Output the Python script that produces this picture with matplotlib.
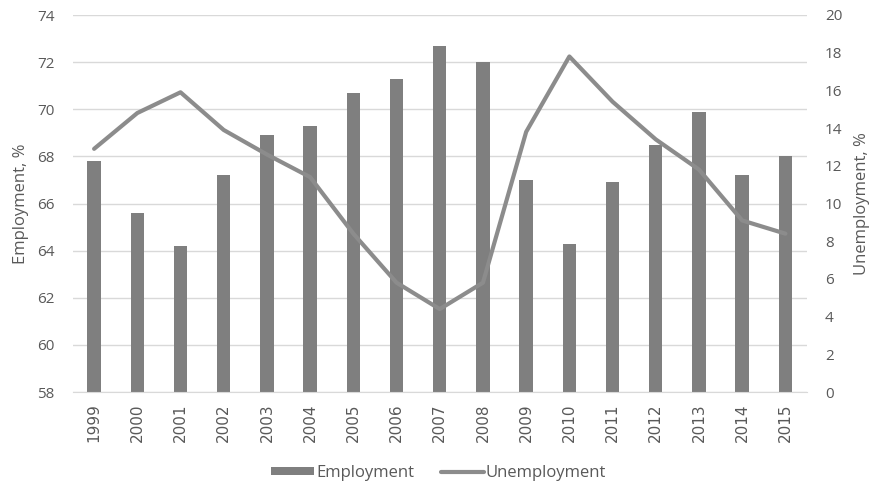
import matplotlib.pyplot as plt
import numpy as np

plt.rcParams['font.family'] = ['Open Sans', 'DejaVu Sans']

# data
years = [str(y) for y in range(1999, 2016)]
employment = [67.8, 65.6, 64.2, 67.2, 68.9, 69.3, 70.7, 71.3, 72.7, 72.0,
              67.0, 64.3, 66.9, 68.5, 69.9, 67.2, 68.0]
unemployment = [12.9, 14.8, 15.9, 13.9, 12.6, 11.4, 8.4, 5.8, 4.4, 5.8,
                13.8, 17.8, 15.4, 13.4, 11.8, 9.1, 8.4]

text_color = '#595959'
bar_color = '#7f7f7f'
line_color = '#8c8c8c'
grid_color = '#d9d9d9'

fig = plt.figure(figsize=(8.77, 4.86), dpi=100)
ax = fig.add_axes([72.5 / 877, 1 - 392 / 486, (807 - 72.5) / 877, (392 - 15) / 486])
ax2 = ax.twinx()

x = np.arange(len(years))
bars = ax.bar(x, employment, width=0.31, color=bar_color, zorder=2, label='Employment')
ax.set_ylim(58, 74)
ax.set_yticks(range(58, 75, 2))
ax.set_xlim(-0.5, len(years) - 0.5)
ax.set_xticks(x)
ax.set_xticklabels(years, rotation=90, fontfamily='DejaVu Sans', fontsize=10.5)
ax.yaxis.grid(True, color=grid_color, linewidth=1, zorder=0)
ax.set_axisbelow(True)

line, = ax2.plot(x, unemployment, color=line_color, linewidth=3, zorder=3,
                 solid_capstyle='round', label='Unemployment')
ax2.set_ylim(0, 20)
ax2.set_yticks(range(0, 21, 2))

for a in (ax, ax2):
    for s in a.spines.values():
        s.set_visible(False)
    a.tick_params(length=0, colors=text_color, labelsize=11)
ax.spines['bottom'].set_visible(True)
ax.spines['bottom'].set_color(grid_color)
ax.tick_params(axis='y', pad=13)
ax2.tick_params(axis='y', pad=13)
ax.tick_params(axis='x', pad=8)

ax.set_ylabel('Employment, %', color=text_color, fontsize=12, labelpad=6)
ax2.set_ylabel('Unemployment, %', color=text_color, fontsize=12, labelpad=8)

fig.legend(handles=[bars, line], loc='lower center', bbox_to_anchor=(0.5, -0.02),
           ncol=2, frameon=False, fontsize=12, labelcolor=text_color,
           handlelength=2.6, handleheight=0.4, handletextpad=0.1, columnspacing=1.6)

fig.savefig('out.png', dpi=100)
